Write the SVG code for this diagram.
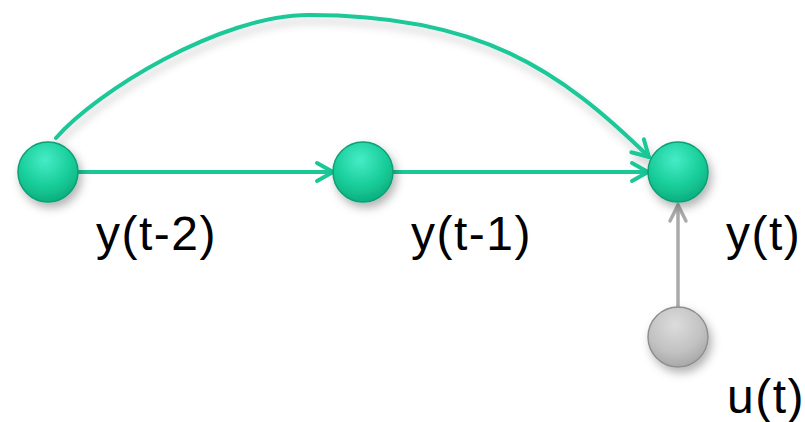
<svg xmlns="http://www.w3.org/2000/svg" width="805" height="422" viewBox="0 0 805 422">
<style>
.conn{fill:none;stroke:#1ac897;stroke-width:4;stroke-linecap:round}
.grey{fill:none;stroke:#aaaaaa;stroke-width:3.5;stroke-linecap:round}
.lbl{font-family:"Liberation Sans",Arial,sans-serif;font-size:48px;fill:#000;letter-spacing:1.5px}
.gnode{fill:url(#gg);stroke:#0b9f74;stroke-width:1.5}
.xnode{fill:url(#xg);stroke:#8f8f8f;stroke-width:1.5}
</style>
<defs>
<radialGradient id="gg" cx="0.45" cy="0.3" r="0.75">
<stop offset="0" stop-color="#46ecc6"/>
<stop offset="0.6" stop-color="#17cc98"/>
<stop offset="1" stop-color="#0ba97a"/>
</radialGradient>
<radialGradient id="xg" cx="0.45" cy="0.3" r="0.75">
<stop offset="0" stop-color="#dcdcdc"/>
<stop offset="0.6" stop-color="#c2c2c2"/>
<stop offset="1" stop-color="#a3a3a3"/>
</radialGradient>
<filter id="sh" x="-50%" y="-50%" width="200%" height="200%">
<feDropShadow dx="3" dy="5" stdDeviation="5" flood-color="#000" flood-opacity="0.3"/>
</filter>
<filter id="lsh" x="-20%" y="-50%" width="140%" height="200%">
<feDropShadow dx="2" dy="6" stdDeviation="4" flood-color="#000" flood-opacity="0.2"/>
</filter>
<marker id="ag" markerUnits="userSpaceOnUse" markerWidth="24" markerHeight="24" viewBox="-20 -12 24 24" refX="0" refY="0" orient="auto" overflow="visible">
<path d="M-16,-9 L0,0 L-16,9" fill="none" stroke="#1ac897" stroke-width="4" stroke-linecap="round" stroke-linejoin="round"/>
</marker>
<marker id="ax" markerUnits="userSpaceOnUse" markerWidth="24" markerHeight="24" viewBox="-20 -12 24 24" refX="0" refY="0" orient="auto" overflow="visible">
<path d="M-16,-8 L0,0 L-16,8" fill="none" stroke="#aaaaaa" stroke-width="3.5" stroke-linecap="round" stroke-linejoin="round"/>
</marker>
</defs>
<g id="connectors">
<path class="conn" filter="url(#lsh)" d="M56,138 C96,92 220,15 309,15 C480,15 560,70 649,157" marker-end="url(#ag)"/>
<path class="conn" d="M78,172 L333,172" marker-end="url(#ag)"/>
<path class="conn" d="M393,172 L648,172" marker-end="url(#ag)"/>
<path class="grey" d="M678,307 L678,205" marker-end="url(#ax)"/>
</g>
<g id="node-yt2">
<circle class="gnode" filter="url(#sh)" cx="48" cy="172" r="30"/>
<text class="lbl" x="96" y="250">y(t-2)</text>
</g>
<g id="node-yt1">
<circle class="gnode" filter="url(#sh)" cx="363" cy="172" r="30"/>
<text class="lbl" x="411" y="250">y(t-1)</text>
</g>
<g id="node-yt">
<circle class="gnode" filter="url(#sh)" cx="678" cy="172" r="30"/>
<text class="lbl" x="726" y="250">y(t)</text>
</g>
<g id="node-ut">
<circle class="xnode" filter="url(#sh)" cx="678" cy="337" r="30"/>
<text class="lbl" x="727" y="413">u(t)</text>
</g>
</svg>
